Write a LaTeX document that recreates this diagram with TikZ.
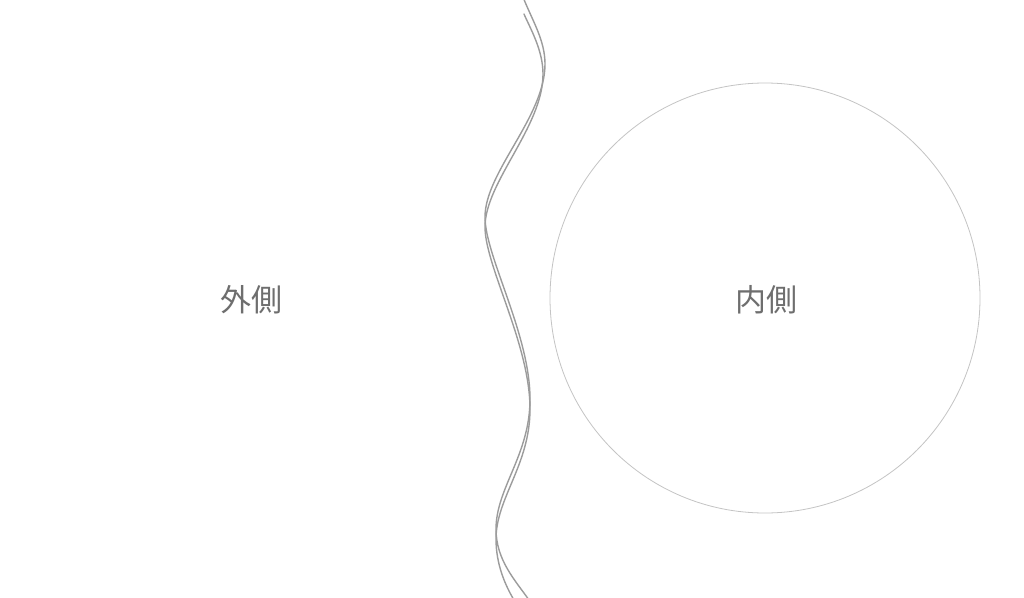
\documentclass[tikz,border=0pt]{standalone}
\usepackage{fontspec}
\newfontfamily\cjk{Noto Sans CJK JP}
\definecolor{txtgray}{HTML}{6E6E6E}
\definecolor{wavegray}{HTML}{9C9C9C}
\definecolor{circgray}{HTML}{C4C4C4}
\tikzset{
  lbl/.style={font=\cjk\fontsize{31}{36}\selectfont, text=txtgray, inner sep=0pt},
  wave/.style={draw=wavegray, line width=1.4pt, line cap=round},
  ring/.style={draw=circgray, line width=0.8pt, circle, minimum size=430pt, inner sep=0pt}
}
\begin{document}
\begin{tikzpicture}[x=1pt,y=-1pt]
\useasboundingbox (0,0) rectangle (1024,597);
\fill[white] (0,0) rectangle (1024,597);
\begin{scope}
\clip (0,0) rectangle (1024,597);
% wavy line A
\draw[wave] (523,-3) .. controls (532,20) and (545,40) .. (545,64)
  .. controls (545,117) and (485,172) .. (485,217)
  .. controls (485,256) and (530,334) .. (530,399)
  .. controls (530,455) and (496,488) .. (496,529)
  .. controls (496,560) and (515,580) .. (529,600);
% wavy line B
\draw[wave] (524,14) .. controls (530,28) and (543,50) .. (543,74)
  .. controls (543,127) and (485,182) .. (485,227)
  .. controls (485,266) and (530,344) .. (530,409)
  .. controls (530,465) and (496,498) .. (496,539)
  .. controls (496,564) and (505,585) .. (514,600);
\end{scope}
\node[ring] (circ) at (765,298) {};
\node[lbl] (outside) at (251,300) {外側};
\node[lbl] (inside) at (766,300) {内側};
\end{tikzpicture}
\end{document}
